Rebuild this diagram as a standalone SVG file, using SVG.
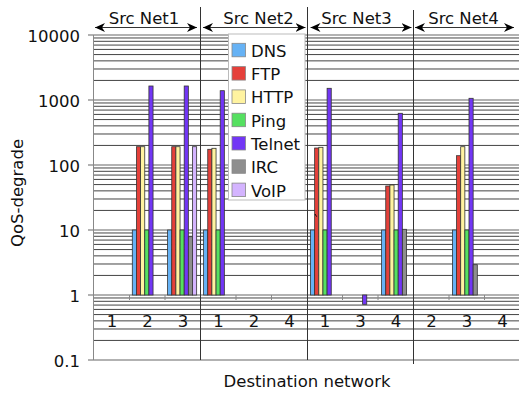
<svg xmlns="http://www.w3.org/2000/svg" width="519" height="393" viewBox="0 0 519 393">
<style>
text{font-family:"DejaVu Sans",Verdana,sans-serif;font-size:16.5px;fill:#111}
.grid{stroke:#444;stroke-width:1;fill:none}
.major{stroke:#999;stroke-width:1.4;fill:none}
.axis{stroke:#888;stroke-width:1;fill:none}
.sep{stroke:#333;stroke-width:1;fill:none}
.arr{stroke:#333;stroke-width:1;fill:none;marker-start:url(#ah);marker-end:url(#ah)}
.bar{stroke:#333;stroke-width:0.8}
.dns{fill:#66b2f5}.ftp{fill:#e5403a}.http{fill:#fff3a0}.ping{fill:#55e060}.tel{fill:#7236f5}.irc{fill:#8e8e8e}.voip{fill:#d4b4ff}
.sw{stroke:#888;stroke-width:0.8}
</style>
<defs>
<marker id="ah" viewBox="0 0 10 10" refX="10" refY="5" markerWidth="10" markerHeight="10" markerUnits="userSpaceOnUse" orient="auto-start-reverse">
<path d="M0,0.5 L10,5 L0,9.5 L3,5 z" fill="#000"/>
</marker>
</defs>

<g id="grid">
<path class="grid" d="M93 340.43H519M93 328.99H519M93 320.87H519M93 314.57H519M93 309.42H519M93 305.07H519M93 301.3H519M93 297.97H519
M93 275.43H519M93 263.99H519M93 255.87H519M93 249.57H519M93 244.42H519M93 240.07H519M93 236.3H519M93 232.97H519
M93 210.43H519M93 198.99H519M93 190.87H519M93 184.57H519M93 179.42H519M93 175.07H519M93 171.3H519M93 167.97H519
M93 145.43H519M93 133.99H519M93 125.87H519M93 119.57H519M93 114.42H519M93 110.07H519M93 106.3H519M93 102.97H519
M93 80.43H519M93 68.99H519M93 60.87H519M93 54.57H519M93 49.42H519M93 45.07H519M93 41.3H519M93 37.97H519"/>
<path class="major" d="M88 35H519M88 100H519M88 165H519M88 230H519M88 295H519M88 360H519"/>
<path class="axis" d="M93.5 35V360"/>
<path class="axis" d="M129.5 295V300M165 295V300M236 295V300M271.5 295V300M342.5 295V300M378 295V300M449 295V300M484.5 295V300"/>
</g>

<g id="separators">
<path class="sep" d="M200.5 7V360M307.5 7V360M413.5 10V364"/>
</g>

<g id="headers">
<line class="arr" x1="95" y1="27.5" x2="197" y2="27.5"/>
<line class="arr" x1="203" y1="27.5" x2="305.5" y2="27.5"/>
<line class="arr" x1="310.5" y1="27.5" x2="411.5" y2="27.5"/>
<line class="arr" x1="415" y1="27.5" x2="514" y2="27.5"/>
<text x="144" y="24.3" text-anchor="middle">Src Net1</text>
<text x="258.5" y="24.3" text-anchor="middle">Src Net2</text>
<text x="356.5" y="24.3" text-anchor="middle">Src Net3</text>
<text x="463.5" y="24.3" text-anchor="middle">Src Net4</text>
</g>

<g id="yaxis">
<text x="80" y="41.5" text-anchor="end">10000</text>
<text x="80" y="106.5" text-anchor="end">1000</text>
<text x="80" y="171.5" text-anchor="end">100</text>
<text x="80" y="236.5" text-anchor="end">10</text>
<text x="80" y="301.5" text-anchor="end">1</text>
<text x="80" y="366.5" text-anchor="end">0.1</text>
<text transform="translate(23 193) rotate(-90)" text-anchor="middle">QoS-degrade</text>
</g>

<g id="xaxis">
<text x="112" y="327" text-anchor="middle">1</text>
<text x="147.5" y="327" text-anchor="middle">2</text>
<text x="183" y="327" text-anchor="middle">3</text>
<text x="218.5" y="327" text-anchor="middle">1</text>
<text x="254" y="327" text-anchor="middle">2</text>
<text x="289.5" y="327" text-anchor="middle">4</text>
<text x="325" y="327" text-anchor="middle">1</text>
<text x="360.5" y="327" text-anchor="middle">3</text>
<text x="396" y="327" text-anchor="middle">4</text>
<text x="431.5" y="327" text-anchor="middle">2</text>
<text x="467" y="327" text-anchor="middle">3</text>
<text x="502.5" y="327" text-anchor="middle">4</text>
<text x="307" y="386.5" text-anchor="middle">Destination network</text>
</g>

<g id="bars-net1">
<rect class="bar dns" x="132.3" y="230" width="4.15" height="65"/>
<rect class="bar ftp" x="136.45" y="146.7" width="4.15" height="148.3"/>
<rect class="bar http" x="140.6" y="146.7" width="4.15" height="148.3"/>
<rect class="bar ping" x="144.75" y="230" width="4.15" height="65"/>
<rect class="bar tel" x="148.9" y="86" width="4.15" height="209"/>

<rect class="bar dns" x="167.6" y="230" width="4.15" height="65"/>
<rect class="bar ftp" x="171.75" y="146.7" width="4.15" height="148.3"/>
<rect class="bar http" x="175.9" y="146.7" width="4.15" height="148.3"/>
<rect class="bar ping" x="180.05" y="230" width="4.15" height="65"/>
<rect class="bar tel" x="184.2" y="86" width="4.15" height="209"/>
<rect class="bar irc" x="188.35" y="236.7" width="4.15" height="58.3"/>
<rect class="bar voip" x="192.5" y="146.7" width="4.15" height="148.3"/>
</g>

<g id="bars-net2">
<rect class="bar dns" x="203.6" y="230" width="4.15" height="65"/>
<rect class="bar ftp" x="207.75" y="149.3" width="4.15" height="145.7"/>
<rect class="bar http" x="211.9" y="148.3" width="4.15" height="146.7"/>
<rect class="bar ping" x="216.05" y="230" width="4.15" height="65"/>
<rect class="bar tel" x="220.2" y="90.7" width="4.15" height="204.3"/>
</g>

<g id="bars-net3">
<rect class="bar dns" x="310.5" y="230" width="4.15" height="65"/>
<rect class="bar ftp" x="314.65" y="148" width="4.15" height="147"/>
<rect class="bar http" x="318.8" y="147.3" width="4.15" height="147.7"/>
<rect class="bar ping" x="322.95" y="230" width="4.15" height="65"/>
<rect class="bar tel" x="327.1" y="88.3" width="4.15" height="206.7"/>
<line x1="315" y1="214" x2="316.7" y2="216.7" stroke="#000" stroke-width="0.9"/>

<rect class="bar tel" x="362.6" y="295" width="4.15" height="9.3"/>

<rect class="bar dns" x="381.6" y="230" width="4.15" height="65"/>
<rect class="bar ftp" x="385.75" y="186" width="4.15" height="109"/>
<rect class="bar http" x="389.9" y="185" width="4.15" height="110"/>
<rect class="bar ping" x="394.05" y="230" width="4.15" height="65"/>
<rect class="bar tel" x="398.2" y="113.3" width="4.15" height="181.7"/>
<rect class="bar irc" x="402.35" y="229.3" width="4.15" height="65.7"/>
</g>

<g id="bars-net4">
<rect class="bar dns" x="452.4" y="230" width="4.15" height="65"/>
<rect class="bar ftp" x="456.55" y="155.7" width="4.15" height="139.3"/>
<rect class="bar http" x="460.7" y="146.7" width="4.15" height="148.3"/>
<rect class="bar ping" x="464.85" y="230" width="4.15" height="65"/>
<rect class="bar tel" x="469" y="98.3" width="4.15" height="196.7"/>
<rect class="bar irc" x="473.15" y="264.7" width="4.15" height="30.3"/>
</g>

<g id="legend">
<rect x="228.5" y="34" width="76.5" height="166" fill="#fff" stroke="#bbb" stroke-width="1"/>
<rect class="sw dns" x="232" y="43.3" width="13.5" height="13.5"/>
<text x="251" y="56.7">DNS</text>
<rect class="sw ftp" x="232" y="66.6" width="13.5" height="13.5"/>
<text x="251" y="80">FTP</text>
<rect class="sw http" x="232" y="89.9" width="13.5" height="13.5"/>
<text x="251" y="103.3">HTTP</text>
<rect class="sw ping" x="232" y="113.2" width="13.5" height="13.5"/>
<text x="251" y="126.6">Ping</text>
<rect class="sw tel" x="232" y="136.5" width="13.5" height="13.5"/>
<text x="251" y="149.9">Telnet</text>
<rect class="sw irc" x="232" y="159.8" width="13.5" height="13.5"/>
<text x="251" y="173.2">IRC</text>
<rect class="sw voip" x="232" y="183.1" width="13.5" height="13.5"/>
<text x="251" y="196.5">VoIP</text>
</g>
</svg>
